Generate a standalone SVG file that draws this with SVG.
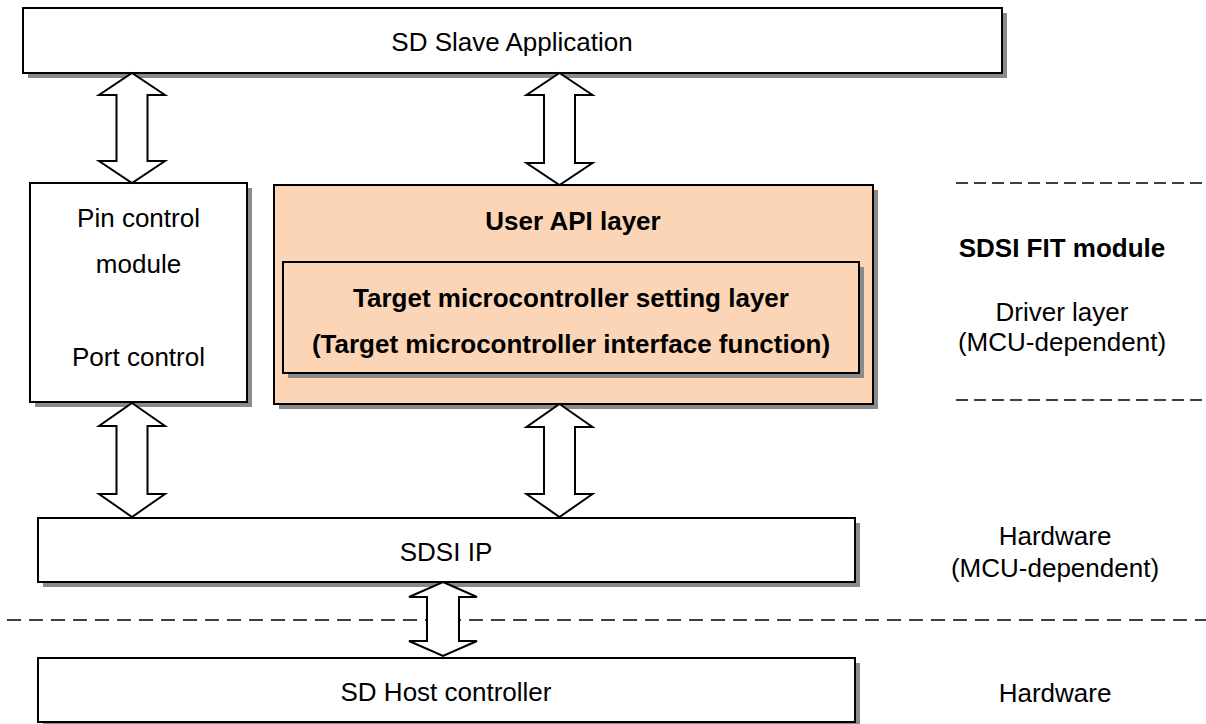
<svg xmlns="http://www.w3.org/2000/svg" width="1206" height="724" viewBox="0 0 1206 724">
<style>
.box{fill:#ffffff;stroke:#000000;stroke-width:2}
.peach{fill:#fbd5b5;stroke:#000000;stroke-width:2}
.shadow{fill:#8a8a8a;stroke:none}
.t{font-family:"Liberation Sans",Arial,sans-serif;font-size:26px;fill:#000000;text-anchor:middle}
.b{font-weight:bold}
.dash{stroke:#000000;stroke-width:1.6;fill:none}
.arrow{fill:#ffffff;stroke:#000000;stroke-width:2;stroke-linejoin:miter}
</style>
<rect width="1206" height="724" fill="#ffffff"/>
<g id="sd-slave-application">
<rect class="shadow" x="28" y="13" width="979" height="65"/>
<rect class="box" x="23" y="8" width="979" height="65"/>
<text class="t" x="512" y="51">SD Slave Application</text>
</g>
<g id="pin-control-module">
<rect class="shadow" x="35" y="188" width="217" height="219"/>
<rect class="box" x="30" y="183" width="217" height="219"/>
<text class="t" x="138.5" y="227">Pin control</text>
<text class="t" x="138.5" y="273">module</text>
<text class="t" x="138.5" y="366">Port control</text>
</g>
<g id="user-api-layer">
<rect class="shadow" x="279" y="190" width="599" height="219"/>
<rect class="peach" x="274" y="185" width="599" height="219"/>
<text class="t b" x="573" y="230">User API layer</text>
</g>
<g id="target-mcu-setting-layer">
<rect class="shadow" x="288" y="267" width="576" height="111"/>
<rect class="peach" x="283" y="262" width="576" height="111"/>
<text class="t b" x="571" y="307">Target microcontroller setting layer</text>
<text class="t b" x="571" y="353">(Target microcontroller interface function)</text>
</g>
<g id="sdsi-ip">
<rect class="shadow" x="43" y="523" width="817" height="64"/>
<rect class="box" x="38" y="518" width="817" height="64"/>
<text class="t" x="446" y="561">SDSI IP</text>
</g>
<g id="sd-host-controller">
<rect class="shadow" x="43" y="663" width="817" height="64"/>
<rect class="box" x="38" y="658" width="817" height="64"/>
<text class="t" x="446" y="701">SD Host controller</text>
</g>
<g id="layer-labels">
<text class="t b" x="1062" y="257">SDSI FIT module</text>
<text class="t" x="1062" y="321">Driver layer</text>
<text class="t" x="1062" y="351">(MCU-dependent)</text>
<text class="t" x="1055" y="545">Hardware</text>
<text class="t" x="1055" y="577">(MCU-dependent)</text>
<text class="t" x="1055" y="702">Hardware</text>
</g>
<g id="separators">
<line class="dash" x1="956" y1="183" x2="1206" y2="183" stroke-dasharray="12 6"/>
<line class="dash" x1="956" y1="400" x2="1206" y2="400" stroke-dasharray="12 6"/>
<line class="dash" x1="7" y1="620" x2="1206" y2="620" stroke-dasharray="14 8"/>
</g>
<g id="connectors">
<polygon class="arrow" points="132,73 165,95 147.5,95 147.5,161 165,161 132,183 99,161 116.5,161 116.5,95 99,95"/>
<polygon class="arrow" points="559.5,73 592.5,95 575,95 575,163 592.5,163 559.5,185 526.5,163 544,163 544,95 526.5,95"/>
<polygon class="arrow" points="132,403 165,426 147.5,426 147.5,494 165,494 132,517 99,494 116.5,494 116.5,426 99,426"/>
<polygon class="arrow" points="559.5,404 592.5,427 575,427 575,494 592.5,494 559.5,517 526.5,494 544,494 544,427 526.5,427"/>
<polygon class="arrow" points="443,582 477,597 459,597 459,641 477,641 443,656 409,641 427,641 427,597 409,597"/>
</g>
</svg>
